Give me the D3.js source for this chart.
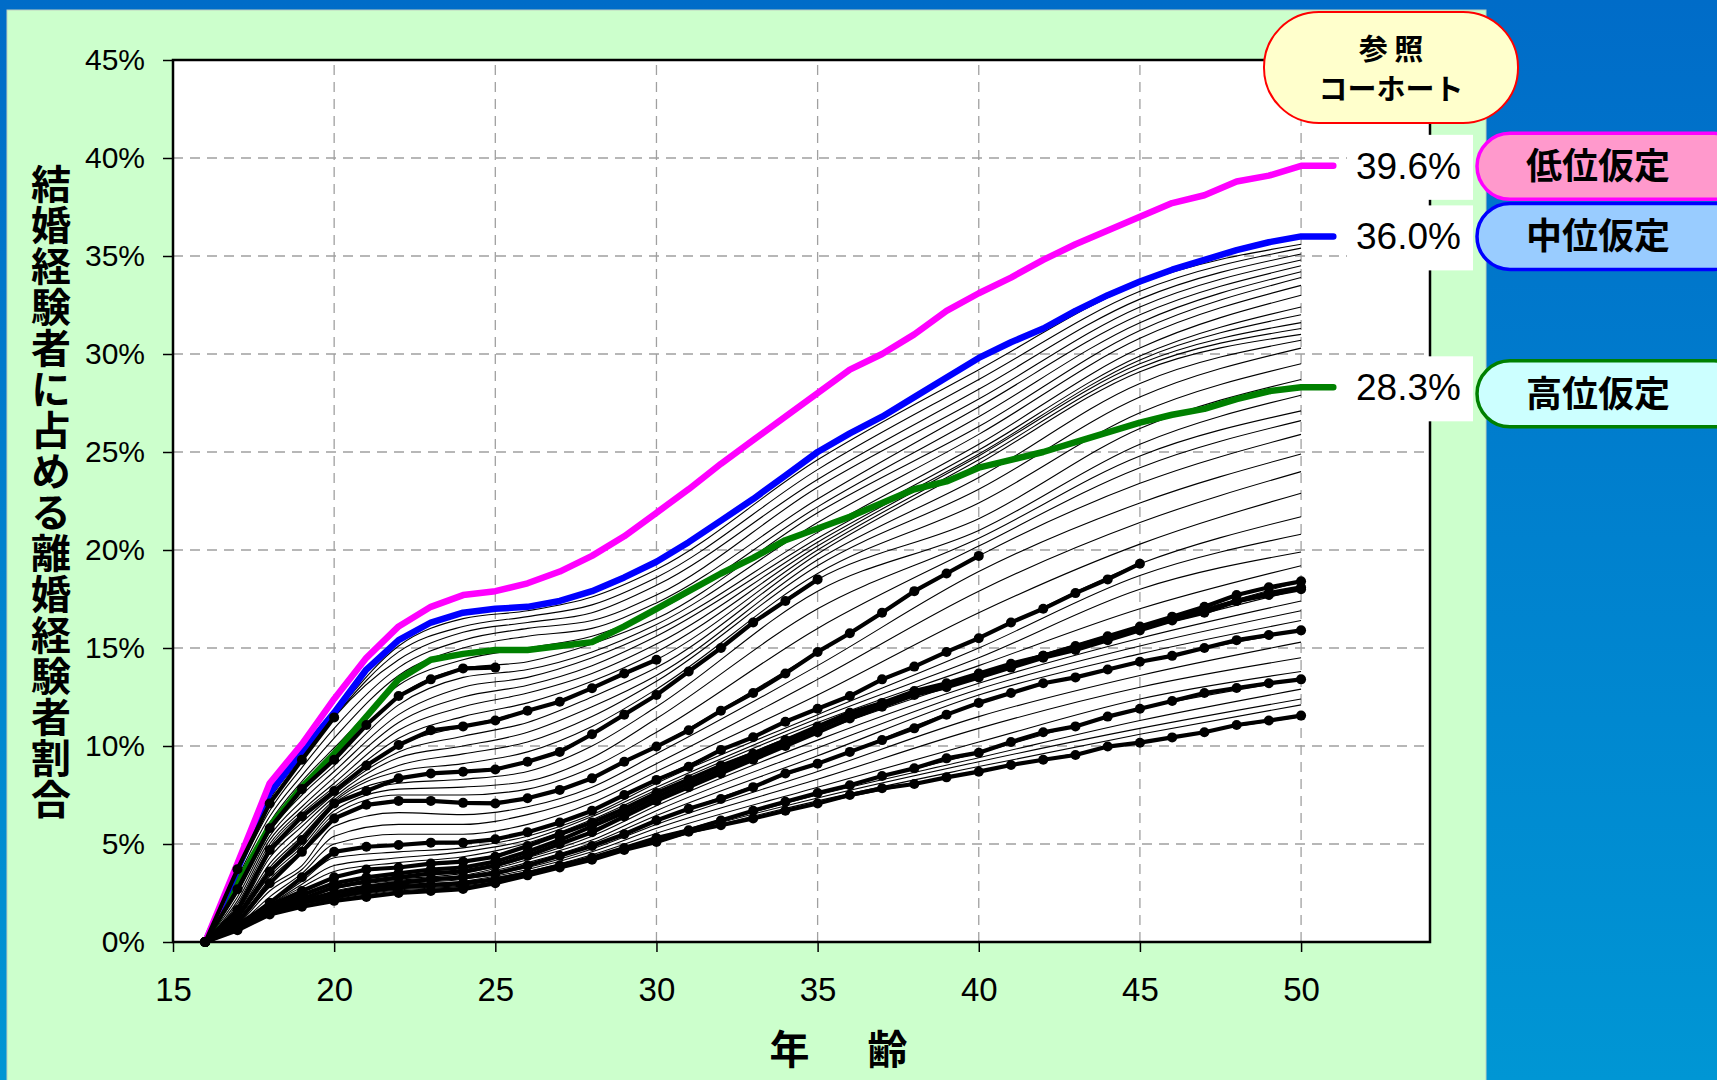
<!DOCTYPE html>
<html><head><meta charset="utf-8">
<script src="https://cdn.jsdelivr.net/npm/d3@7"></script>
<style>body{margin:0;overflow:hidden;background:#0070C8}svg{display:block}</style>
</head><body>
<svg id="c" width="1717" height="1080"></svg>
<script>
// ---------------- DATA ----------------
const ages = [16,17,18,19,20,21,22,23,24,25,26,27,28,29,30,31,32,33,34,35,36,37,38,39,40,41,42,43,44,45,46,47,48,49,50];
const yTicks = [0,5,10,15,20,25,30,35,40,45];
const xTicks = [15,20,25,30,35,40,45,50];

// reference cohort under three assumptions
const lowVariant  = [0,4.0,8.1,10.1,12.4,14.5,16.1,17.1,17.7,17.9,18.3,18.9,19.7,20.7,21.9,23.1,24.4,25.6,26.8,28.0,29.2,30.0,31.0,32.2,33.1,33.9,34.8,35.6,36.3,37.0,37.7,38.1,38.8,39.1,39.6];
const midVariant  = [0,3.7,7.6,9.7,11.7,13.9,15.4,16.3,16.8,17.0,17.1,17.4,17.9,18.6,19.4,20.4,21.5,22.6,23.8,25.0,25.95,26.8,27.8,28.8,29.8,30.6,31.3,32.2,33.0,33.7,34.3,34.8,35.3,35.7,36.0];
const highVariant = [0,3.0,5.9,7.9,9.6,11.5,13.4,14.4,14.7,14.9,14.9,15.1,15.3,16.1,17.0,17.9,18.8,19.6,20.5,21.1,21.7,22.4,23.1,23.5,24.2,24.6,25.0,25.5,26.0,26.5,26.9,27.2,27.7,28.1,28.3];
const variantValueLabels = ["39.6%","36.0%","28.3%"];
const variantNames = ["低位仮定","中位仮定","高位仮定"];
const refLabel = ["参 照","コーホート"];

// observed cohorts (bold with markers), values from age 16
const observedCohorts = [
  [0,3.71,7.07,9.3,11.46],
  [0,2.69,5.8,7.8,9.3,11.07,12.55,13.4,13.96,14.0],
  [0,1.63,4.7,6.4,7.7,9.0,10.05,10.8,11.0,11.3,11.8,12.26,12.95,13.7,14.4],
  [0,1.3,3.6,5.2,7.07,7.7,8.35,8.6,8.69,8.8,9.2,9.7,10.6,11.6,12.6,13.8,15.0,16.3,17.4,18.5],
  [0,1.0,3.0,4.6,6.3,7.0,7.2,7.2,7.1,7.07,7.33,7.76,8.35,9.2,9.97,10.8,11.8,12.7,13.7,14.8,15.75,16.8,17.9,18.8,19.7],
  [0,0.8,2.0,3.3,4.6,4.86,4.95,5.07,5.07,5.24,5.6,6.1,6.7,7.5,8.27,8.94,9.8,10.45,11.24,11.9,12.55,13.4,14.05,14.8,15.5,16.3,17.0,17.8,18.5,19.3],
  [0,0.9,1.85,2.6,3.3,3.7,3.8,4.0,4.1,4.35,4.9,5.5,6.1,6.8,7.6,8.3,9.0,9.6,10.3,11.0,11.7,12.2,12.8,13.2,13.7,14.2,14.6,15.1,15.6,16.1,16.6,17.1,17.7,18.1,18.4],
  [0,0.85,1.75,2.4,3.0,3.3,3.5,3.7,3.8,4.1,4.6,5.2,5.9,6.6,7.4,8.1,8.8,9.45,10.2,10.9,11.6,12.1,12.7,13.1,13.6,14.1,14.6,15.0,15.5,16.0,16.5,16.9,17.4,17.8,18.1],
  [0,0.8,1.65,2.2,2.8,3.1,3.3,3.5,3.6,3.9,4.4,5.0,5.6,6.4,7.2,7.9,8.6,9.3,10.0,10.7,11.4,12.0,12.6,13.0,13.5,14.0,14.5,14.9,15.4,15.9,16.4,16.8,17.4,17.7,18.0],
  [0,0.78,1.55,2.1,2.5,2.8,3.0,3.2,3.3,3.5,3.9,4.4,4.9,5.5,6.2,6.8,7.3,7.9,8.6,9.1,9.7,10.3,10.9,11.6,12.2,12.7,13.2,13.5,13.9,14.3,14.6,15.0,15.4,15.66,15.9],
  [0,0.7,1.5,2.0,2.3,2.6,2.8,2.9,3.0,3.2,3.5,3.9,4.3,4.8,5.3,5.7,6.2,6.7,7.16,7.6,8.0,8.47,8.86,9.37,9.66,10.2,10.7,11.0,11.5,11.9,12.3,12.7,12.96,13.2,13.4],
  [0,0.6,1.4,1.8,2.1,2.3,2.5,2.6,2.7,3.0,3.4,3.8,4.2,4.7,5.1,5.63,5.96,6.3,6.7,7.07,7.5,7.84,8.06,8.4,8.69,9.03,9.3,9.54,9.97,10.17,10.44,10.7,11.07,11.3,11.55]
];

// all cohorts (thin lines, observed + projected): one row per age, one column per cohort (youngest first)
const cohortOrigin = 0;
const thinAges = [17,18,19,20,22,24,26,28,30,35,40,45,50];
const thinByAge = [
  [3.7,3.7,3.71,3.5,3.3,3.0,2.69,2.5,2.3,2.1,1.95,1.8,1.63,1.55,1.5,1.45,1.4,1.3,1.25,1.2,1.1,1.0,0.95,0.9,0.85,0.8,0.8,0.8,0.85,0.9,0.85,0.8,0.8,0.8,0.78,0.78,0.75,0.75,0.72,0.7,0.68,0.65,0.62,0.6],
  [7.4,7.25,7.07,6.7,6.4,6.1,5.8,5.6,5.4,5.2,5.0,4.85,4.7,4.5,4.3,4.0,3.8,3.6,3.5,3.35,3.2,3.0,2.8,2.6,2.3,2.0,1.95,1.9,1.9,1.85,1.75,1.65,1.6,1.6,1.55,1.55,1.5,1.5,1.5,1.5,1.45,1.45,1.4,1.4],
  [9.6,9.45,9.3,8.9,8.5,8.2,7.8,7.5,7.2,6.9,6.7,6.55,6.4,6.1,5.9,5.6,5.4,5.2,5.0,4.85,4.7,4.6,3.9,3.7,3.5,3.3,3.1,2.95,2.8,2.6,2.4,2.2,2.2,2.15,2.1,2.1,2.05,2.05,2.0,2.0,1.95,1.9,1.85,1.8],
  [11.6,11.5,11.46,10.9,10.4,9.9,9.3,9.0,8.7,8.4,8.1,7.9,7.7,7.55,7.4,7.25,7.15,7.07,6.9,6.7,6.5,6.3,5.9,5.4,5.0,4.6,4.3,3.9,3.6,3.3,3.0,2.8,2.75,2.7,2.6,2.5,2.45,2.4,2.35,2.3,2.25,2.2,2.15,2.1],
  [15.1,14.8,14.4,14.0,13.6,13.1,12.55,12.1,11.6,11.2,10.8,10.4,10.05,9.7,9.4,9.0,8.7,8.35,8.1,7.8,7.5,7.2,6.6,6.0,5.5,4.95,4.6,4.3,4.05,3.8,3.5,3.3,3.2,3.15,3.1,3.0,2.95,2.9,2.85,2.8,2.7,2.65,2.6,2.5],
  [16.5,16.1,15.8,15.4,15.0,14.4,13.96,13.5,13.0,12.5,12.0,11.5,11.0,10.5,10.0,9.6,9.1,8.69,8.3,7.9,7.5,7.1,6.5,6.0,5.5,5.07,4.8,4.6,4.35,4.1,3.8,3.6,3.5,3.4,3.35,3.3,3.2,3.1,3.05,3.0,2.9,2.85,2.8,2.7],
  [16.9,16.6,16.3,16.0,15.6,15.0,14.3,13.9,13.5,13.1,12.7,12.2,11.8,11.2,10.7,10.2,9.7,9.2,8.7,8.2,7.8,7.33,6.9,6.5,6.0,5.6,5.4,5.2,5.05,4.9,4.6,4.4,4.3,4.2,4.05,3.9,3.8,3.7,3.6,3.5,3.45,3.4,3.4,3.4],
  [17.6,17.2,16.8,16.4,16.0,15.6,15.2,14.8,14.5,14.1,13.7,13.3,12.95,12.5,12.0,11.5,11.0,10.6,10.0,9.4,8.9,8.35,7.9,7.5,7.1,6.7,6.5,6.4,6.25,6.1,5.9,5.6,5.4,5.2,5.05,4.9,4.75,4.6,4.45,4.3,4.3,4.25,4.2,4.2],
  [19.0,18.6,18.2,17.7,17.3,16.9,16.5,16.2,15.9,15.6,15.2,14.8,14.4,14.0,13.6,13.3,12.9,12.6,12.0,11.4,10.7,10.0,9.6,9.1,8.7,8.3,8.1,7.9,7.75,7.6,7.4,7.2,6.95,6.7,6.45,6.2,6.0,5.8,5.55,5.3,5.25,5.2,5.15,5.1],
  [24.6,24.1,23.6,23.2,22.6,22.2,21.9,21.4,20.9,20.6,20.4,20.2,20.0,19.8,19.5,19.2,18.8,18.5,17.9,17.0,16.0,14.8,14.1,13.4,12.6,11.9,11.6,11.4,11.2,11.0,10.9,10.7,10.3,9.9,9.5,9.1,8.7,8.3,7.9,7.6,7.5,7.35,7.2,7.07],
  [29.2,28.7,28.2,27.7,27.3,26.8,26.3,25.9,25.4,25.1,24.9,24.8,24.6,24.4,23.7,23.1,22.4,21.6,21.0,20.6,20.2,19.7,18.9,17.9,16.8,15.5,15.0,14.5,14.1,13.7,13.6,13.5,13.2,12.9,12.6,12.2,11.5,10.9,10.2,9.66,9.4,9.2,8.95,8.69],
  [33.6,33.2,32.8,32.4,32.0,31.6,31.2,30.8,30.3,29.9,29.7,29.5,29.3,29.1,28.5,27.8,27.0,26.2,25.4,24.8,24.2,23.4,22.4,21.4,20.3,19.3,18.7,18.0,17.0,16.1,16.0,15.9,15.5,15.1,14.7,14.3,13.6,13.0,12.4,11.9,11.3,10.9,10.6,10.2],
  [35.6,35.4,35.1,34.8,34.5,34.2,33.9,33.5,33.0,32.4,32.0,31.6,31.3,31.0,30.7,30.3,29.5,28.7,27.9,27.1,26.6,25.9,24.9,24.0,22.9,21.7,20.8,19.9,19.2,18.4,18.1,18.0,17.4,16.9,16.4,15.9,15.3,14.5,13.8,13.4,12.9,12.4,12.1,11.5]
];

// ---------------- DRAW ----------------
const svg = d3.select("#c");
const W = 1717, H = 1080;
const defs = svg.append("defs");
const bg = defs.append("linearGradient").attr("id","bg").attr("x1",0).attr("y1",0).attr("x2",0).attr("y2",1);
bg.append("stop").attr("offset","0%").attr("stop-color","#006CC8");
bg.append("stop").attr("offset","100%").attr("stop-color","#0096D4");
svg.append("rect").attr("width",W).attr("height",H).attr("fill","url(#bg)");
svg.append("rect").attr("x",7).attr("y",10).attr("width",1479).attr("height",1080)
  .attr("fill","#CCFFCC").attr("stroke","#C0D0C0").attr("stroke-width",1);

const x = d3.scaleLinear().domain([15,54]).range([173,1430]);
const y = d3.scaleLinear().domain([0,45]).range([942,60]);

// plot area
svg.append("rect").attr("x",x(15)).attr("y",y(45)).attr("width",x(54)-x(15)).attr("height",y(0)-y(45)).attr("fill","#fff");

const grid = svg.append("g").attr("stroke","#a0a0a0").attr("stroke-width",1.3).attr("stroke-dasharray","10,7");
grid.selectAll("line.h").data(yTicks.filter(d=>d>0 && d<45)).join("line")
  .attr("x1",x(15)).attr("x2",x(54)).attr("y1",d=>y(d)).attr("y2",d=>y(d));
grid.selectAll("line.v").data(xTicks.filter(d=>d>15)).join("line")
  .attr("y1",y(0)).attr("y2",y(45)).attr("x1",d=>x(d)).attr("x2",d=>x(d));

const lineGen = d3.line().x(d=>x(d[0])).y(d=>y(d[1]));
const smoothGen = d3.line().x(d=>x(d[0])).y(d=>y(d[1])).curve(d3.curveMonotoneX);

// thin cohort lines
const nCohorts = thinByAge[0].length;
const thinG = svg.append("g");
for (let c = 0; c < nCohorts; c++) {
  const pts = [[ages[0], cohortOrigin]].concat(thinAges.map((a,i)=>[a, thinByAge[i][c]]));
  thinG.append("path").attr("d", smoothGen(pts)).attr("fill","none").attr("stroke","#000").attr("stroke-width",1.1);
}

// variant lines with label leaders
const variants = [lowVariant, midVariant, highVariant];
const vColors = ["#FF00FF","#0000FF","#008000"];
const vOrder = [2,1,0];
vOrder.forEach(i=>{
  const pts = ages.map((a,k)=>[a, variants[i][k]]);
  const last = pts[pts.length-1];
  pts.push([51, last[1]]);
  svg.append("path").attr("d", lineGen(pts)).attr("fill","none").attr("stroke",vColors[i])
    .attr("stroke-width",6.5).attr("stroke-linejoin","round").attr("stroke-linecap","round");
});

// observed bold lines
const boldG = svg.append("g");
observedCohorts.forEach(vals=>{
  const pts = vals.map((v,k)=>[ages[k], v]);
  boldG.append("path").attr("d", lineGen(pts)).attr("fill","none").attr("stroke","#000")
    .attr("stroke-width",4.2).attr("stroke-linejoin","round");
  boldG.selectAll(null).data(pts).join("circle").attr("cx",d=>x(d[0])).attr("cy",d=>y(d[1])).attr("r",5).attr("fill","#000");
});

// frame
svg.append("rect").attr("x",x(15)).attr("y",y(45)).attr("width",x(54)-x(15)).attr("height",y(0)-y(45))
  .attr("fill","none").attr("stroke","#000").attr("stroke-width",2.5);

// axes
const yAxis = svg.append("g").attr("transform",`translate(${x(15)},0)`)
  .call(d3.axisLeft(y).tickValues(yTicks).tickFormat(d=>d+"%").tickSize(10).tickPadding(18));
yAxis.select(".domain").remove();
yAxis.selectAll("line").attr("stroke","#000").attr("stroke-width",1.5);
yAxis.selectAll("text").attr("font-family","'Liberation Sans', Arial, sans-serif").attr("font-size",30).attr("fill","#000");

const xAxis = svg.append("g").attr("transform",`translate(0,${y(0)})`)
  .call(d3.axisBottom(x).tickValues(xTicks).tickSize(10).tickPadding(26));
xAxis.select(".domain").remove();
xAxis.selectAll("line").attr("stroke","#000").attr("stroke-width",1.5);
xAxis.selectAll("text").attr("font-family","'Liberation Sans', Arial, sans-serif").attr("font-size",33).attr("fill","#000");

// axis titles
svg.append("text").attr("x",843).attr("y",1064).attr("text-anchor","middle")
  .attr("font-family","'Noto Sans CJK JP', sans-serif").attr("font-weight","bold").attr("font-size",40)
  .attr("letter-spacing",9).text("年　齢");
svg.append("text").attr("x",51).attr("y",164)
  .style("writing-mode","vertical-rl").style("text-orientation","upright")
  .attr("font-family","'Noto Sans CJK JP', sans-serif").attr("font-weight","bold").attr("font-size",40)
  .attr("letter-spacing",1).text("結婚経験者に占める離婚経験者割合");

// reference cohort bubble
svg.append("rect").attr("x",1264).attr("y",12).attr("width",254).attr("height",111).attr("rx",55)
  .attr("fill","#FFFFCC").attr("stroke","#FF0000").attr("stroke-width",2);
svg.append("text").attr("x",1391).attr("y",60).attr("text-anchor","middle")
  .attr("font-family","'Noto Sans CJK JP', sans-serif").attr("font-weight","bold").attr("font-size",29).text(refLabel[0]);
svg.append("text").attr("x",1391).attr("y",100).attr("text-anchor","middle")
  .attr("font-family","'Noto Sans CJK JP', sans-serif").attr("font-weight","bold").attr("font-size",29).text(refLabel[1]);

// value labels and capsules
const capFill = ["#FF99CC","#99CCFF","#CCFFFF"];
const capOffset = [0.5, 0, 6.5];
[0,1,2].forEach(i=>{
  const v = variants[i][variants[i].length-1];
  const vy = y(v);
  svg.append("rect").attr("x",1347).attr("y",vy-31).attr("width",126).attr("height",65).attr("fill","#fff");
  svg.append("text").attr("x",1356).attr("y",vy+13).attr("font-family","'Liberation Sans', Arial, sans-serif")
    .attr("font-size",37).attr("fill","#000").text(variantValueLabels[i]);
  const cy = vy + capOffset[i];
  svg.append("rect").attr("x",1477).attr("y",cy-33).attr("width",270).attr("height",66).attr("rx",33)
    .attr("fill",capFill[i]).attr("stroke",vColors[i]).attr("stroke-width",3.5);
  svg.append("text").attr("x",1598).attr("y",cy+3).attr("text-anchor","middle").attr("dominant-baseline","middle")
    .attr("font-family","'Noto Sans CJK JP', sans-serif").attr("font-weight","bold").attr("font-size",36)
    .attr("fill","#000").text(variantNames[i]);
});
</script>
</body></html>
